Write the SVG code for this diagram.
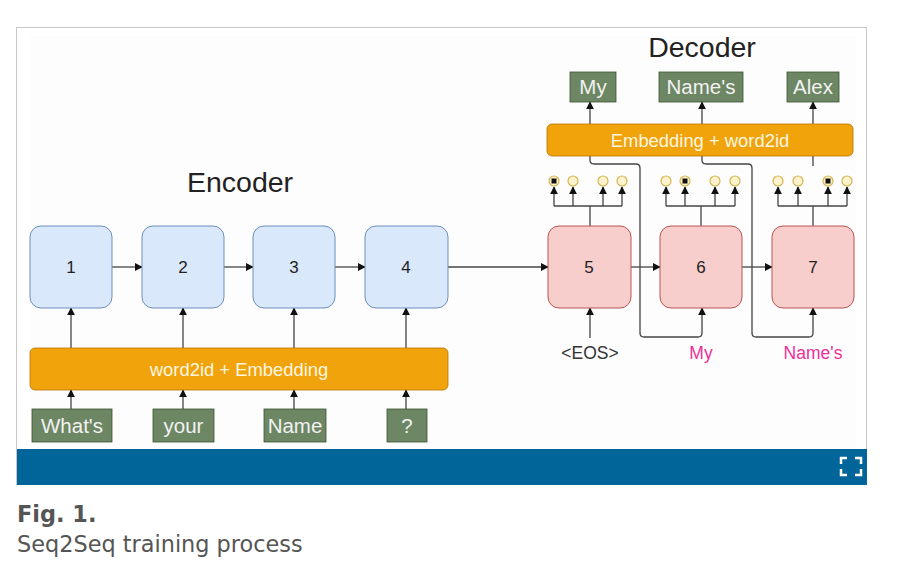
<svg xmlns="http://www.w3.org/2000/svg" width="900" height="571" viewBox="0 0 900 571">
<defs>
<style>
.t{font-family:"Liberation Sans",Arial,sans-serif;}
.enc rect{fill:#dae8fc;stroke:#6c8ebf;stroke-width:1;}
.dec rect{fill:#f8cecc;stroke:#b85450;stroke-width:1;}
.num{font-size:17px;fill:#222;text-anchor:middle;}
.grn rect{fill:#6d8764;stroke:#3a5431;stroke-width:0.8;}
.gt{font-size:20.5px;fill:#f2f2f2;text-anchor:middle;}
.bar{fill:#f0a30a;stroke:#bd7000;stroke-width:0.8;}
.bt{font-size:18.4px;fill:#fff6e0;text-anchor:middle;}
.title{font-size:28.5px;fill:#222;text-anchor:middle;}
.c line,.c path,.c polyline{fill:none;stroke:#444;stroke-width:1.3;}
.dot{fill:#fff2cc;stroke:#d6b656;stroke-width:1.2;}
.cap{font-family:"DejaVu Sans",Verdana,sans-serif;font-size:22.4px;fill:#555;}
.lab{font-size:17.5px;text-anchor:middle;}
</style>
<marker id="ah" viewBox="0 0 10 10" refX="9" refY="5" markerWidth="8" markerHeight="8" markerUnits="userSpaceOnUse" orient="auto">
<path d="M0,0 L10,5 L0,10 z" fill="#111"/>
</marker>
</defs>
<rect x="0" y="0" width="900" height="571" fill="#fff"/>
<rect x="16.5" y="27.5" width="850" height="457" fill="#fff" stroke="#c8c8c8" stroke-width="1"/>
<rect x="30" y="36" width="826" height="412" fill="#fdfdfd"/>
<rect id="bluebar" x="17" y="449" width="850" height="36" fill="#02659a"/>
<g id="fullscreen" fill="none" stroke="#fff" stroke-width="2.5">
<path d="M841,464 V458 H847"/>
<path d="M855,458 H861 V464"/>
<path d="M841,469 V475 H847"/>
<path d="M855,475 H861 V469"/>
</g>

<text class="t title" x="240" y="192">Encoder</text>
<text class="t title" x="702" y="57">Decoder</text>

<g id="connectors" class="c">
<line x1="112" y1="267" x2="142" y2="267" marker-end="url(#ah)"/>
<line x1="224" y1="267" x2="253" y2="267" marker-end="url(#ah)"/>
<line x1="335" y1="267" x2="365" y2="267" marker-end="url(#ah)"/>
<line x1="448" y1="267" x2="548" y2="267" marker-end="url(#ah)"/>
<line x1="631" y1="267" x2="660" y2="267" marker-end="url(#ah)"/>
<line x1="742" y1="267" x2="772" y2="267" marker-end="url(#ah)"/>
<line x1="71" y1="348" x2="71" y2="308" marker-end="url(#ah)"/>
<line x1="183" y1="348" x2="183" y2="308" marker-end="url(#ah)"/>
<line x1="294" y1="348" x2="294" y2="308" marker-end="url(#ah)"/>
<line x1="406" y1="348" x2="406" y2="308" marker-end="url(#ah)"/>
<line x1="71" y1="409" x2="71" y2="390" marker-end="url(#ah)"/>
<line x1="183" y1="409" x2="183" y2="390" marker-end="url(#ah)"/>
<line x1="294" y1="409" x2="294" y2="390" marker-end="url(#ah)"/>
<line x1="406" y1="409" x2="406" y2="390" marker-end="url(#ah)"/>
<line x1="590" y1="338" x2="590" y2="308" marker-end="url(#ah)"/>
<line x1="590" y1="124" x2="590" y2="102" marker-end="url(#ah)"/>
<line x1="702" y1="124" x2="702" y2="102" marker-end="url(#ah)"/>
<line x1="813" y1="124" x2="813" y2="102" marker-end="url(#ah)"/>
<path d="M590,156 V160 Q590,164 594,164 H636 Q640,164 640,168 V333 Q640,337 644,337 H698 Q702,337 702,333 V308" marker-end="url(#ah)"/>
<path d="M702,156 V160 Q702,164 706,164 H748 Q752,164 752,168 V333 Q752,337 756,337 H809 Q813,337 813,333 V308" marker-end="url(#ah)"/>
<line x1="813" y1="156" x2="813" y2="166"/>
<!-- tree 5 -->
<line x1="590" y1="226" x2="590" y2="206"/>
<line x1="554" y1="206" x2="622" y2="206"/>
<line x1="554" y1="206" x2="554" y2="187" marker-end="url(#ah)"/>
<line x1="573" y1="206" x2="573" y2="187" marker-end="url(#ah)"/>
<line x1="603" y1="206" x2="603" y2="187" marker-end="url(#ah)"/>
<line x1="622" y1="206" x2="622" y2="187" marker-end="url(#ah)"/>
<!-- tree 6 -->
<line x1="701" y1="226" x2="701" y2="206"/>
<line x1="666" y1="206" x2="735" y2="206"/>
<line x1="666" y1="206" x2="666" y2="187" marker-end="url(#ah)"/>
<line x1="685" y1="206" x2="685" y2="187" marker-end="url(#ah)"/>
<line x1="715" y1="206" x2="715" y2="187" marker-end="url(#ah)"/>
<line x1="735" y1="206" x2="735" y2="187" marker-end="url(#ah)"/>
<!-- tree 7 -->
<line x1="813" y1="226" x2="813" y2="206"/>
<line x1="778" y1="206" x2="847" y2="206"/>
<line x1="778" y1="206" x2="778" y2="187" marker-end="url(#ah)"/>
<line x1="798" y1="206" x2="798" y2="187" marker-end="url(#ah)"/>
<line x1="828" y1="206" x2="828" y2="187" marker-end="url(#ah)"/>
<line x1="847" y1="206" x2="847" y2="187" marker-end="url(#ah)"/>
</g>

<g id="dots">
<circle class="dot" cx="554" cy="181" r="5"/><rect x="551.5" y="178.5" width="5" height="5" fill="#111"/>
<circle class="dot" cx="573" cy="181" r="5"/>
<circle class="dot" cx="603" cy="181" r="5"/>
<circle class="dot" cx="622" cy="181" r="5"/>
<circle class="dot" cx="666" cy="181" r="5"/>
<circle class="dot" cx="685" cy="181" r="5"/><rect x="682.5" y="178.5" width="5" height="5" fill="#111"/>
<circle class="dot" cx="715" cy="181" r="5"/>
<circle class="dot" cx="735" cy="181" r="5"/>
<circle class="dot" cx="778" cy="181" r="5"/>
<circle class="dot" cx="798" cy="181" r="5"/>
<circle class="dot" cx="828" cy="181" r="5"/><rect x="825.5" y="178.5" width="5" height="5" fill="#111"/>
<circle class="dot" cx="847" cy="181" r="5"/>
</g>

<g id="enc1" class="enc"><rect x="30" y="226" width="82" height="82" rx="11"/><text class="t num" x="71" y="273">1</text></g>
<g id="enc2" class="enc"><rect x="142" y="226" width="82" height="82" rx="11"/><text class="t num" x="183" y="273">2</text></g>
<g id="enc3" class="enc"><rect x="253" y="226" width="82" height="82" rx="11"/><text class="t num" x="294" y="273">3</text></g>
<g id="enc4" class="enc"><rect x="365" y="226" width="83" height="82" rx="11"/><text class="t num" x="406" y="273">4</text></g>

<g id="dec5" class="dec"><rect x="548" y="226" width="83" height="82" rx="11"/><text class="t num" x="589" y="273">5</text></g>
<g id="dec6" class="dec"><rect x="660" y="226" width="82" height="82" rx="11"/><text class="t num" x="701" y="273">6</text></g>
<g id="dec7" class="dec"><rect x="772" y="226" width="82" height="82" rx="11"/><text class="t num" x="813" y="273">7</text></g>

<g id="encbar"><rect class="bar" x="30" y="348" width="418" height="42" rx="5"/><text class="t bt" x="239" y="375.5">word2id + Embedding</text></g>
<g id="decbar"><rect class="bar" x="547" y="124" width="306" height="32" rx="5"/><text class="t bt" x="700" y="146.5">Embedding + word2id</text></g>

<g id="in1" class="grn"><rect x="32" y="409" width="80" height="33"/><text class="t gt" x="72" y="433">What's</text></g>
<g id="in2" class="grn"><rect x="153" y="409" width="61" height="33"/><text class="t gt" x="183.5" y="433">your</text></g>
<g id="in3" class="grn"><rect x="264" y="409" width="62" height="33"/><text class="t gt" x="295" y="433">Name</text></g>
<g id="in4" class="grn"><rect x="387" y="409" width="40" height="33"/><text class="t gt" x="407" y="433">?</text></g>

<g id="out1" class="grn"><rect x="570" y="72" width="46" height="30"/><text class="t gt" x="593" y="94">My</text></g>
<g id="out2" class="grn"><rect x="659" y="72" width="84" height="30"/><text class="t gt" x="701" y="94">Name's</text></g>
<g id="out3" class="grn"><rect x="787" y="72" width="52" height="30"/><text class="t gt" x="813" y="94">Alex</text></g>

<g id="lab-eos"><text class="t lab" x="590" y="359" fill="#333">&lt;EOS&gt;</text></g>
<g id="lab-my"><text class="t lab" x="701" y="359" fill="#ee2f9a">My</text></g>
<g id="lab-names"><text class="t lab" x="813" y="359" fill="#ee2f9a">Name's</text></g>

<text class="cap" x="17" y="522" font-weight="bold">Fig. 1.</text>
<text class="cap" x="17" y="552">Seq2Seq training process</text>
</svg>
